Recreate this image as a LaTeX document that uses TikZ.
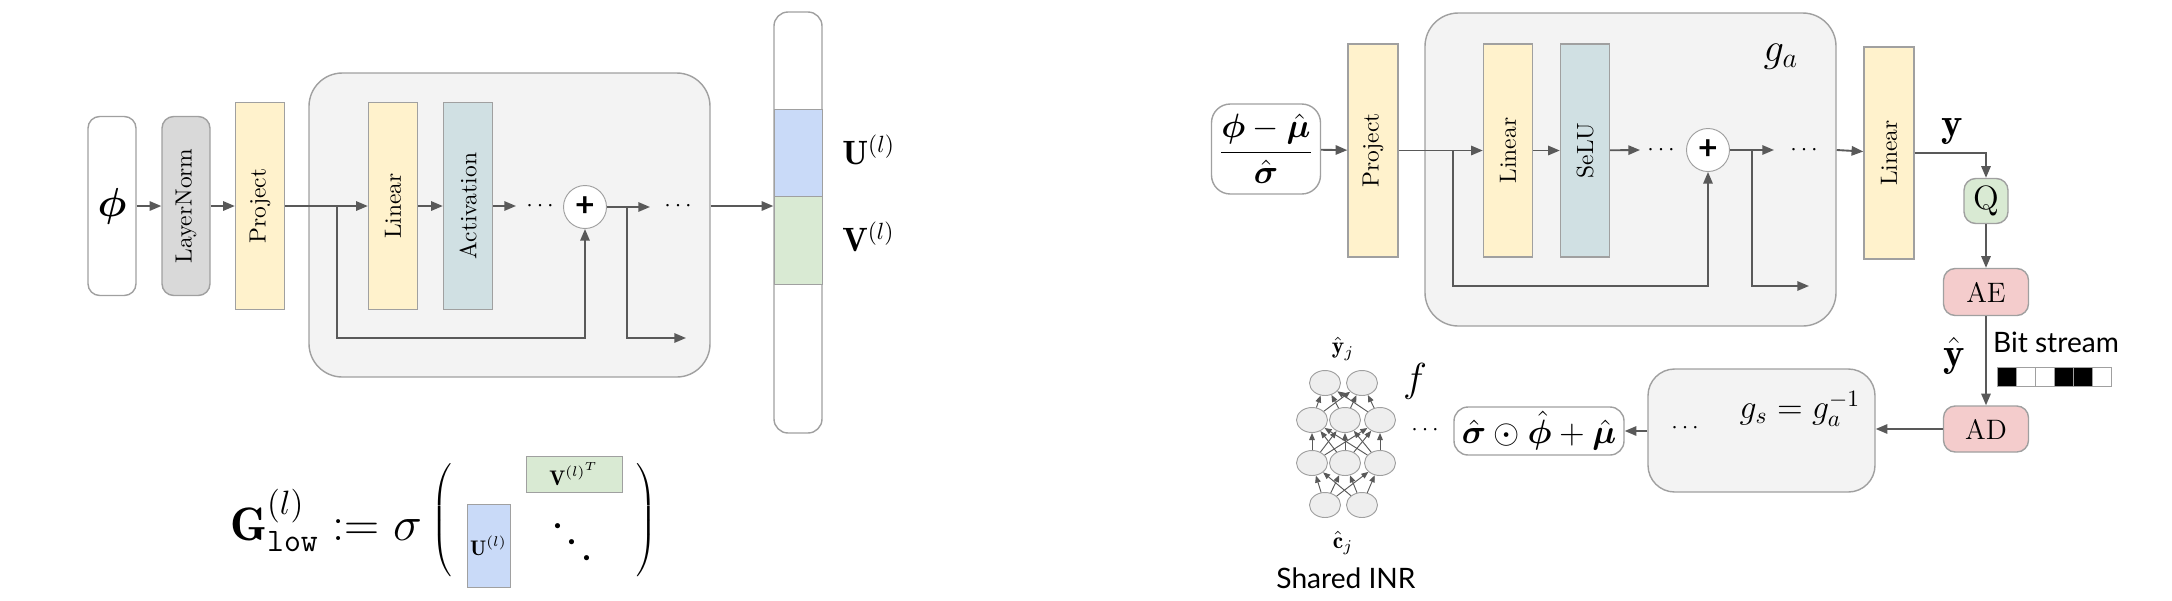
\documentclass[tikz,border=0pt]{standalone}
\usepackage{amsmath,bm}
\usepackage{fontspec}
\newfontfamily\gsans{Lato}
\usetikzlibrary{arrows.meta,shapes.geometric}

\definecolor{linegray}{HTML}{595959}
\definecolor{bordergray}{HTML}{A0A0A0}
\definecolor{projyellow}{HTML}{FFF2CC}
\definecolor{actteal}{HTML}{D0E0E3}
\definecolor{normgray}{HTML}{D9D9D9}
\definecolor{boxgray}{HTML}{F3F3F3}
\definecolor{ublue}{HTML}{C9DAF8}
\definecolor{vgreen}{HTML}{D9EAD3}
\definecolor{codepink}{HTML}{F4CCCC}
\definecolor{nodegray}{HTML}{EEEEEE}

\def\pxu{0.015cm}

\tikzset{
  flow/.style={->, draw=linegray, thick},
  wire/.style={-{Triangle[length=3pt,width=2.4pt]}, draw=linegray, thin},
  layer/.style={draw=bordergray, semithick, rotate=90, inner sep=0pt,
    minimum height=49*\pxu, minimum width=207*\pxu},
  block/.style={draw=bordergray, semithick, rounded corners=5pt, inner sep=0pt, fill=white},
  group/.style={draw=bordergray, semithick, rounded corners=0.5cm, fill=boxgray, inner sep=0pt},
  addop/.style={circle, draw=bordergray, fill=white, minimum size=43*\pxu, inner sep=0pt,
    font=\gsans\bfseries\Large},
  coder/.style={block, fill=codepink, font=\large},
  neuron/.style={ellipse, draw=bordergray, fill=nodegray, minimum width=31*\pxu,
    minimum height=25*\pxu, inner sep=0pt},
}

\begin{document}
\begin{tikzpicture}[x=0.015cm, y=-0.015cm, >={Triangle[length=5pt,width=4pt]}]
  \useasboundingbox[fill=white] (0,0) rectangle (2172,600);

  % left: low-rank generator
  \node[group, minimum width=401*\pxu, minimum height=304*\pxu] (blockL) at (509.5,225) {};

  \node[block, minimum width=48*\pxu, minimum height=179*\pxu, font=\LARGE] (phi) at (112,206) {$\bm{\phi}$};
  \node[layer, fill=normgray, rounded corners=5pt, minimum width=179*\pxu, minimum height=48*\pxu] (norm) at (186,206) {LayerNorm};
  \node[layer, fill=projyellow] (proj) at (260,206) {Project};
  \node[layer, fill=projyellow] (lin1) at (393,206) {Linear};
  \node[layer, fill=actteal] (act) at (468,206) {Activation};
  \node (dots1) at (542,206) {$\cdots$};
  \node[addop] (plus1) at (585,207) {+};
  \node (dots2) at (680,206) {$\cdots$};

  \node[block, minimum width=48*\pxu, minimum height=421*\pxu, rounded corners=6pt] (col) at (798,222.5) {};
  \node[draw=bordergray, fill=ublue, minimum width=48*\pxu, minimum height=87*\pxu, inner sep=0pt] (ublk) at (798,152.5) {};
  \node[draw=bordergray, fill=vgreen, minimum width=48*\pxu, minimum height=88*\pxu, inner sep=0pt] (vblk) at (798,240) {};
  \node[anchor=west, font=\Large] (ulab) at (834,150) {$\mathbf{U}^{(l)}$};
  \node[anchor=west, font=\Large] (vlab) at (834,237) {$\mathbf{V}^{(l)}$};

  \coordinate (a1) at (516,206);
  \coordinate (p1) at (650,207);
  \coordinate (sk1) at (337,206);
  \coordinate (sk1d) at (337,338);
  \coordinate (sk2) at (627,207);
  \coordinate (sk2d) at (627,338);
  \coordinate (sk2e) at (686,338);

  \draw[flow] (phi) -- (norm);
  \draw[flow] (norm) -- (proj);
  \draw[flow] (proj) -- (lin1);
  \draw[flow] (lin1) -- (act);
  \draw[flow] (act) -- (a1);
  \draw[flow] (plus1) -- (p1);
  \draw[flow] (sk1) -- (sk1d) -| (plus1);
  \draw[flow] (sk2) -- (sk2d) -- (sk2e);
  \draw[flow] (blockL.east |- dots2) -- (col.west |- dots2);

  % left: formula
  \node[anchor=base west, font=\fontsize{20}{24}\selectfont] (glow) at (222,540) {$\mathbf{G}^{(l)}_{\texttt{low}} \mathrel{:=} \sigma$};
  \node (lpar) at (443,523) {$\left(\vrule height 24pt depth 24pt width 0pt\right.$};
  \node[draw=bordergray, fill=ublue, minimum width=43*\pxu, minimum height=83*\pxu, inner sep=0pt, font=\small] (ut) at (488.5,545.5) {$\mathbf{U}^{(l)}$};
  \node[draw=bordergray, fill=vgreen, minimum width=96*\pxu, minimum height=36*\pxu, inner sep=0pt, font=\small] (vt) at (574,474) {$\mathbf{V}^{{(l)}^T}$};
  \node[font=\huge, inner sep=0pt] (dd) at (574,546) {\rotatebox{-47}{$\cdots$}};
  \node (rpar) at (645,523) {$\left.\vrule height 24pt depth 24pt width 0pt\right)$};

  % right: analysis transform
  \node[group, minimum width=411*\pxu, minimum height=313*\pxu] (blockR) at (1630.5,169.5) {};
  \node[font=\LARGE] (ga) at (1781,57) {$g_a$};

  \node[block, rounded corners=8pt, minimum width=109*\pxu, minimum height=90*\pxu, font=\Large] (norm2) at (1266,149)
    {$\dfrac{\bm{\phi}-\hat{\bm{\mu}}}{\hat{\bm{\sigma}}}$};
  \node[layer, fill=projyellow, minimum width=213*\pxu, minimum height=50*\pxu] (proj2) at (1373,150.5) {Project};
  \node[layer, fill=projyellow, minimum width=213*\pxu] (lin2) at (1508,150.5) {Linear};
  \node[layer, fill=actteal, minimum width=213*\pxu] (selu) at (1585,150.5) {SeLU};
  \node (dots3) at (1663,150) {$\cdots$};
  \node[addop] (plus2) at (1708,150) {+};
  \node (dots4) at (1806,150) {$\cdots$};
  \node[layer, fill=projyellow, minimum width=212*\pxu, minimum height=50*\pxu] (lin3) at (1889,153) {Linear};

  \coordinate (a2) at (1640,150);
  \coordinate (p2) at (1774,150);
  \coordinate (sk3) at (1453,150);
  \coordinate (sk3d) at (1453,286);
  \coordinate (sk4) at (1752,150);
  \coordinate (sk4d) at (1752,286);
  \coordinate (sk4e) at (1809,286);
  \coordinate (yturn) at (1986,153);

  \node[font=\LARGE] (ylab) at (1952,132) {$\mathbf{y}$};
  \node[block, fill=vgreen, minimum width=44*\pxu, minimum height=45*\pxu, font=\Large] (quant) at (1986,201) {Q};
  \node[coder, minimum width=85*\pxu, minimum height=47*\pxu] (ae) at (1986,292) {AE};
  \node[coder, minimum width=85*\pxu, minimum height=46*\pxu] (ad) at (1986,429) {AD};
  \node[font=\LARGE] (yhat) at (1954,356) {$\hat{\mathbf{y}}$};
  \node[font=\gsans\large] (bits) at (2056,342) {Bit stream};
  \foreach \bitcol [count=\i from 0] in {black,white,white,black,black,white}
    \draw[draw=bordergray, fill=\bitcol] ({1997+19*\i},367) rectangle ++(19,19);

  \draw[flow] (norm2) -- (proj2);
  \draw[flow] (proj2) -- (lin2);
  \draw[flow] (lin2) -- (selu);
  \draw[flow] (selu) -- (a2);
  \draw[flow] (plus2) -- (p2);
  \draw[flow] (sk3) -- (sk3d) -| (plus2);
  \draw[flow] (sk4) -- (sk4d) -- (sk4e);
  \draw[flow] (blockR.east |- dots4) -- (lin3);
  \draw[flow] (lin3.south |- yturn) -- (yturn) -- (quant);
  \draw[flow] (quant) -- (ae);
  \draw[flow] (ae) -- (ad);

  % right: synthesis transform and shared INR
  \node[group, rounded corners=0.4cm, minimum width=227*\pxu, minimum height=123*\pxu] (gs) at (1761.5,430.5) {};
  \node[font=\Large] (gslab) at (1800,409) {$g_s = g_a^{-1}$};
  \node (dots6) at (1687,428) {$\cdots$};
  \node[block, rounded corners=6pt, minimum width=170*\pxu, minimum height=48*\pxu, font=\Large] (out) at (1539,431)
    {$\hat{\bm{\sigma}}\odot\hat{\bm{\phi}}+\hat{\bm{\mu}}$};
  \node (dots5) at (1427,430) {$\cdots$};
  \node[font=\LARGE] (flab) at (1415,381) {$f$};

  \draw[flow] (ad) -- (gs.east |- ad);
  \draw[flow] (gs.west |- out) -- (out);

  \foreach \x [count=\i] in {1325,1362} \node[neuron] (c\i) at (\x,505) {};
  \foreach \x [count=\i] in {1312,1345,1380} \node[neuron] (h\i) at (\x,463) {};
  \foreach \x [count=\i] in {1312,1345,1380} \node[neuron] (k\i) at (\x,420) {};
  \foreach \x [count=\i] in {1325,1362} \node[neuron] (o\i) at (\x,383) {};
  \foreach \i in {1,2} \foreach \j in {1,2,3} \draw[wire] (c\i) -- (h\j);
  \foreach \i in {1,2,3} \foreach \j in {1,2,3} \draw[wire] (h\i) -- (k\j);
  \foreach \i in {1,2,3} \foreach \j in {1,2} \draw[wire] (k\i) -- (o\j);

  \node (yj) at (1343,349) {$\hat{\mathbf{y}}_j$};
  \node (cj) at (1343,543) {$\hat{\mathbf{c}}_j$};
  \node[font=\gsans\large] (inr) at (1346,578) {Shared INR};
\end{tikzpicture}
\end{document}
